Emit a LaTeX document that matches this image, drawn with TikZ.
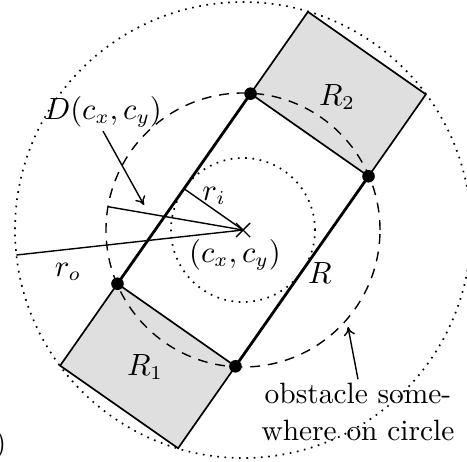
\documentclass[tikz,border=0pt]{standalone}
\usetikzlibrary{arrows.meta}
\begin{document}
\begin{tikzpicture}[x=0.357pt,y=0.357pt,
  font=\fontsize{10.5}{13.2}\selectfont,
  thinline/.style={line width=0.5pt},
  thickline/.style={line width=1pt},
  blockfill/.style={fill=gray!25,draw=black,line width=0.6pt,line join=miter},
  dotcircle/.style={dotted,line width=0.6pt},
  dashcircle/.style={dash pattern=on 3.5pt off 2.8pt,line width=0.5pt},
  corner/.style={circle,fill=black,inner sep=0pt,minimum size=4.5pt},
  pointer/.style={line width=0.5pt,-{To[length=3pt,width=4pt]}},
  lab/.style={inner sep=1pt}]
\useasboundingbox (-243,-231) rectangle (224,230);
\clip (-243,-231) rectangle (224,230);
\coordinate (C) at (0,0);
\begin{scope}[rotate=55]
  \coordinate (TL) at (116,72);
  \coordinate (TR) at (116,-72);
  \coordinate (BL) at (-116,72);
  \coordinate (BR) at (-116,-72);
  \coordinate (T2a) at (216,72);
  \coordinate (T2b) at (216,-72);
  \coordinate (B1a) at (-216,72);
  \coordinate (B1b) at (-216,-72);
  \coordinate (F) at (0,72);
\end{scope}
% shaded blocks
\draw[blockfill] (TL) -- (T2a) -- (T2b) -- (TR) -- cycle;
\draw[blockfill] (BL) -- (B1a) -- (B1b) -- (BR) -- cycle;
% circles
\draw[dotcircle] (C) circle[radius=72];
\draw[dashcircle] (C) circle[radius=137];
\draw[dotcircle] (C) circle[radius=228];
% rectangle R long sides
\draw[thickline] (BL) -- (TL);
\draw[thickline] (BR) -- (TR);
% radii
\coordinate (Dp) at (170.2:137);
\coordinate (Op) at (186.3:228);
\draw[thinline] (C) -- (F);
\draw[thinline] (C) -- (Dp);
\draw[thinline] (C) -- (Op);
% center cross
\draw[thinline] (-7,-7) -- (7,7) (-7,7) -- (7,-7);
% corner dots
\node[corner] (d1) at (TL) {};
\node[corner] (d2) at (TR) {};
\node[corner] (d3) at (BL) {};
\node[corner] (d4) at (BR) {};
% labels
\node[lab] (Dlab) at (-140,118) {$D(c_x,c_y)$};
\coordinate (Dtip) at (-99,25);
\draw[pointer] (Dlab.south) -- (Dtip);
\node[lab] (ri) at (-29,34) {$r_i$};
\node[lab] (ro) at (-175,-42) {$r_o$};
\node[lab] (cc) at (-8,-25) {$(c_x,c_y)$};
\node[lab] (Rl) at (77,-43) {$R$};
\node[lab] (R2l) at (94,133) {$R_2$};
\node[lab] (R1l) at (-98,-137) {$R_1$};
\node[lab,align=center] (obs) at (115,-181.5) {obstacle some-\\where on circle};
\coordinate (Otip) at (105,-97);
\draw[pointer] (obs.north) -- (Otip);
\node[anchor=east,inner sep=0pt] (paren) at (-236,-215) {)};
\end{tikzpicture}
\end{document}
